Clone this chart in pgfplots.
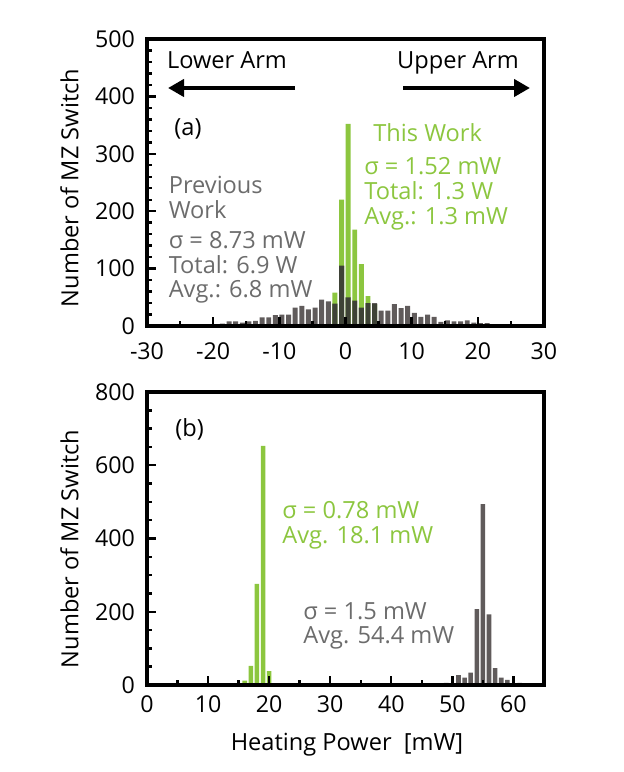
\documentclass[border=0pt]{standalone}
\usepackage{fontspec}
\setmainfont{Open Sans}
\usepackage{pgfplots}
\usepackage{pgfplotstable}
\pgfplotsset{compat=1.18}
\usetikzlibrary{arrows.meta}
\definecolor{bargreen}{RGB}{140,198,63}
\definecolor{bargray}{RGB}{96,91,91}
\definecolor{bardark}{RGB}{62,66,54}
\definecolor{txtgray}{RGB}{108,108,108}

\pgfplotstableread{
x y
-28.6 2
-27.6 2
-23.6 2
-21.6 2
-19.6 3
-18.6 4
-17.6 8
-16.6 8
-15.6 6
-14.6 8
-13.6 9
-12.6 15
-11.6 15
-10.6 19
-9.6 20
-8.6 20
-7.6 32
-6.6 35
-5.6 29
-4.6 32
-3.6 46
-2.6 43
-1.6 39
-0.6 105
0.4 50
1.4 44
2.4 32
3.4 40
4.4 40
5.4 27
6.4 27
7.4 38
8.4 31
9.4 35
10.4 23
11.4 16
12.4 20
13.4 16
14.4 7
15.4 10
16.4 8
17.4 8
18.4 10
19.4 6
20.4 5
21.4 5
22.4 3
23.4 3
25.4 3
27.4 3
}\prevA

\pgfplotstableread{
x y
-1.6 58
-0.6 220
0.4 352
1.4 168
2.4 108
3.4 52
4.4 38
}\thisA

\pgfplotstableread{
x y
-1.6 39
-0.6 105
0.4 50
1.4 44
2.4 32
3.4 40
4.4 38
}\overlapA

\pgfplotstableread{
x y
16 12
17 52
18 276
19 653
20 38
22 3
23 3
24 3
27 3
}\thisB

\pgfplotstableread{
x y
43 3
49 6
51 27
52 20
53 34
54 207
55 494
56 193
57 46
58 20
59 14
61 6
}\prevB

\begin{document}
\begin{tikzpicture}[
  txt/.style={inner sep=0pt, text height=8.4pt, text depth=0pt, font=\fontsize{11.8}{14}\selectfont}]
\useasboundingbox (0,0) rectangle (311.5pt,386pt);

\pgfplotsset{
  myaxis/.style={
    scale only axis,
    width=198.5pt,
    anchor=south west,
    enlargelimits=false,
    axis on top,
    tick align=inside,
    xtick pos=left, ytick pos=left,
    major tick length=4.5pt,
    minor tick length=2.5pt,
    every tick/.style={line width=1.2pt, black},
    axis line style={line width=1.6pt},
    tick label style={font=\fontsize{11.6}{14}\selectfont},
    /pgf/number format/assume math mode=true,
    yticklabel style={xshift=-2.5pt},
  }
}

% Panel (a)
\begin{axis}[myaxis,
  at={(73.5pt,223pt)}, height=143.5pt,
  xmin=-30, xmax=30, ymin=0, ymax=500,
  xtick={-30,-20,...,30},
  xticklabels={-30,-20,-10,0,10,20,30},
  minor x tick num=1,
  ytick={0,100,...,500},
  minor y tick num=4,
  xticklabel style={yshift=-5.0pt},
]
\addplot[ybar, bar width=0.75, bar shift=0pt, fill=bargray, draw=none] table[x=x,y=y] {\prevA};
\addplot[ybar, bar width=0.75, bar shift=0pt, fill=bargreen, draw=none] table[x=x,y=y] {\thisA};
\addplot[ybar, bar width=0.75, bar shift=0pt, fill=bardark, draw=none] table[x=x,y=y] {\overlapA};
\end{axis}

% Panel (b)
\begin{axis}[myaxis,
  at={(73.5pt,43.5pt)}, height=146.5pt,
  xmin=0, xmax=65, ymin=0, ymax=800,
  xtick={0,10,...,60},
  minor x tick num=1,
  ytick={0,200,...,800},
  minor y tick num=3,
  xticklabel style={yshift=-2.0pt},
]
\addplot[ybar, bar width=0.75, bar shift=0pt, fill=bargreen, draw=none] table[x=x,y=y] {\thisB};
\addplot[ybar, bar width=0.75, bar shift=0pt, fill=bargray, draw=none] table[x=x,y=y] {\prevB};
\end{axis}

% annotations panel (a)
\node[txt] at (113.5pt,356pt) {Lower Arm};
\node[txt] at (229pt,356pt) {Upper Arm};
\draw[line width=2pt, -{Triangle[length=8pt,width=8.5pt]}] (147.5pt,342pt) -- (84pt,342pt);
\draw[line width=2pt, -{Triangle[length=8pt,width=8.5pt]}] (201.5pt,342pt) -- (265pt,342pt);
\node[txt, anchor=west] at (87pt,322.5pt) {(a)};
\node[txt, anchor=west, text=bargreen] at (186.5pt,319.5pt) {This Work};
\node[txt, anchor=west, text=bargreen] at (182pt,302.7pt) {σ = 1.52 mW};
\node[txt, anchor=west, text=bargreen] at (182pt,290.2pt) {Total: 1.3 W};
\node[txt, anchor=west, text=bargreen] at (182pt,277.7pt) {Avg.: 1.3 mW};
\node[txt, anchor=west, text=txtgray] at (84.2pt,293.5pt) {Previous};
\node[txt, anchor=west, text=txtgray] at (84.2pt,281pt) {Work};
\node[txt, anchor=west, text=txtgray] at (84.2pt,266pt) {σ = 8.73 mW};
\node[txt, anchor=west, text=txtgray] at (84.2pt,253.5pt) {Total: 6.9 W};
\node[txt, anchor=west, text=txtgray] at (84.2pt,241.5pt) {Avg.: 6.8 mW};

% annotations panel (b)
\node[txt, anchor=west] at (87.5pt,172pt) {(b)};
\node[txt, anchor=west, text=bargreen] at (141pt,131pt) {σ = 0.78 mW};
\node[txt, anchor=west, text=bargreen] at (141pt,118.5pt) {Avg. 18.1 mW};
\node[txt, anchor=west, text=txtgray] at (151.5pt,80.5pt) {σ = 1.5 mW};
\node[txt, anchor=west, text=txtgray] at (151.5pt,68.5pt) {Avg. 54.4 mW};

% axis labels
\node[txt, rotate=90] at (35pt,292pt) {Number of MZ Switch};
\node[txt, rotate=90] at (35pt,111.5pt) {Number of MZ Switch};
\node[txt] at (173.5pt,15pt) {Heating Power\ \ [mW]};
\end{tikzpicture}
\end{document}
